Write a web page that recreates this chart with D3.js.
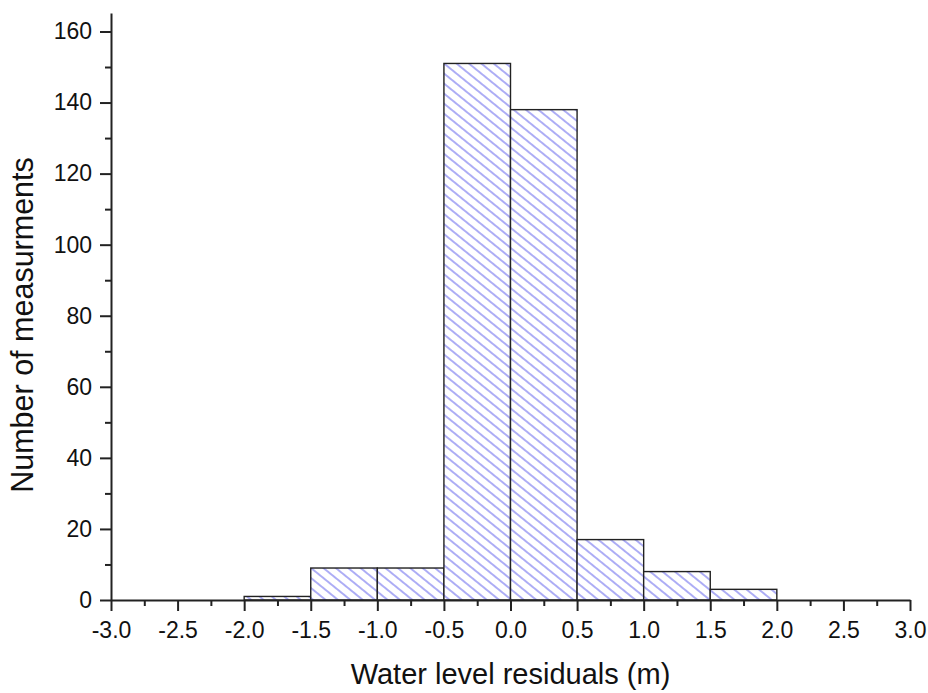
<!DOCTYPE html>
<html>
<head>
<meta charset="utf-8">
<script src="https://cdn.jsdelivr.net/npm/d3@7"></script>
<style>
  body { margin: 0; background: #fff; }
  text { font-family: "Liberation Sans", Arial, sans-serif; fill: #111; }
</style>
</head>
<body>
<div id="chart"></div>
<script>
const svgWidth = 928;
const svgHeight = 693;

// histogram bins (left edge, right edge) and counts
const binStarts = [-2.0, -1.5, -1.0, -0.5, 0.0, 0.5, 1.0, 1.5];
const binEnds = [-1.5, -1.0, -0.5, 0.0, 0.5, 1.0, 1.5, 2.0];
const counts = [1, 9, 9, 151, 138, 17, 8, 3];

const xTicks = [-3.0, -2.5, -2.0, -1.5, -1.0, -0.5, 0.0, 0.5, 1.0, 1.5, 2.0, 2.5, 3.0];
const yTicks = [0, 20, 40, 60, 80, 100, 120, 140, 160];

const margin = { left: 111, right: 18, top: 13, bottom: 93 };

const svg = d3.select('#chart').append('svg')
  .attr('width', svgWidth)
  .attr('height', svgHeight);

const x = d3.scaleLinear()
  .domain([-3, 3])
  .range([margin.left, svgWidth - margin.right]);

const y = d3.scaleLinear()
  .domain([0, 165.2])
  .range([svgHeight - margin.bottom, margin.top]);

// hatch pattern, lines running down to the right
const step = 7.8;
const pat = svg.append('defs').append('pattern')
  .attr('id', 'hatch')
  .attr('patternUnits', 'userSpaceOnUse')
  .attr('width', 20)
  .attr('height', step)
  .attr('patternTransform', 'rotate(39)');
pat.append('rect')
  .attr('width', 20).attr('height', step).attr('fill', '#fff');
pat.append('line')
  .attr('x1', 0).attr('y1', step / 2).attr('x2', 20).attr('y2', step / 2)
  .attr('stroke', '#9494f2')
  .attr('stroke-width', 1.5);

const bars = binStarts.map((s, i) => ({ x0: s, x1: binEnds[i], n: counts[i] }));

svg.selectAll('rect.bar')
  .data(bars)
  .enter()
  .append('rect')
  .attr('class', 'bar')
  .attr('x', d => x(d.x0))
  .attr('y', d => y(d.n))
  .attr('width', d => x(d.x1) - x(d.x0))
  .attr('height', d => y(0) - y(d.n))
  .attr('fill', 'url(#hatch)')
  .attr('stroke', '#222')
  .attr('stroke-width', 1.4);

const fmt = d => d3.format('.1f')(d).replace('\u2212', '-');

// x axis
const xAxis = svg.append('g')
  .attr('transform', `translate(0,${y(0)})`)
  .call(d3.axisBottom(x).tickValues(xTicks).tickFormat(fmt).tickSize(11).tickSizeOuter(0));
const xMinor = svg.append('g')
  .attr('transform', `translate(0,${y(0)})`)
  .call(d3.axisBottom(x).tickValues(d3.range(-2.75, 3, 0.5)).tickFormat('').tickSize(6).tickSizeOuter(0));
xMinor.select('.domain').remove();

// y axis
const yAxis = svg.append('g')
  .attr('transform', `translate(${x(-3)},0)`)
  .call(d3.axisLeft(y).tickValues(yTicks).tickSize(11).tickSizeOuter(0));
const yMinor = svg.append('g')
  .attr('transform', `translate(${x(-3)},0)`)
  .call(d3.axisLeft(y).tickValues(d3.range(10, 165, 20)).tickFormat('').tickSize(6).tickSizeOuter(0));
yMinor.select('.domain').remove();

svg.selectAll('.domain').attr('stroke', '#222').attr('stroke-width', 2);
svg.selectAll('.tick line').attr('stroke', '#222').attr('stroke-width', 2);
svg.selectAll('.tick text')
  .style('font-family', '"Liberation Sans", Arial, sans-serif')
  .style('font-size', '23px')
  .attr('fill', '#111');
xAxis.selectAll('.tick text').attr('y', 22).attr('dy', '0.71em');
yAxis.selectAll('.tick text').attr('x', -19);

svg.append('text')
  .attr('x', (x(-3) + x(3)) / 2)
  .attr('y', 684)
  .attr('text-anchor', 'middle')
  .style('font-size', '29px')
  .text('Water level residuals (m)');

svg.append('text')
  .attr('transform', `translate(33,325) rotate(-90)`)
  .attr('text-anchor', 'middle')
  .style('font-size', '30.5px')
  .text('Number of measurments');
</script>
</body>
</html>
